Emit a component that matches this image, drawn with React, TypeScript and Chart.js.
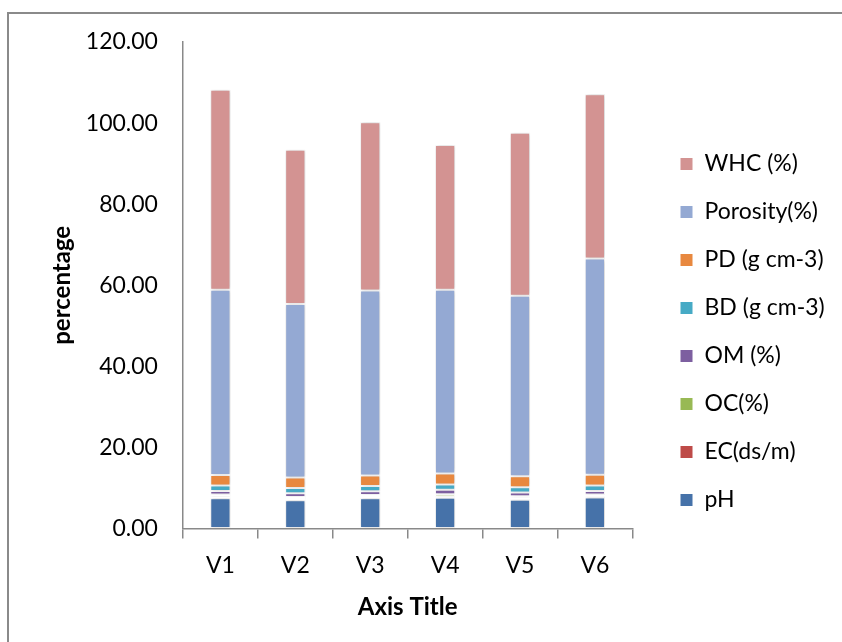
import React, { useEffect, useRef } from "react";
import { Chart, registerables } from "chart.js";

Chart.register(...registerables);

const categories = ["V1", "V2", "V3", "V4", "V5", "V6"];
const pH = [7.5, 7.0, 7.5, 7.6, 7.1, 7.7];
const EC = [0.4, 0.3, 0.3, 0.3, 0.5, 0.3];
const OC = [0.5, 0.5, 0.5, 0.6, 0.4, 0.4];
const OM = [0.9, 0.9, 0.9, 1.1, 0.9, 0.9];
const BD = [1.3, 1.3, 1.3, 1.3, 1.3, 1.3];
const PD = [2.6, 2.6, 2.6, 2.7, 2.7, 2.7];
const Porosity = [45.7, 42.8, 45.6, 45.3, 44.5, 53.3];
const WHC = [49.3, 38.0, 41.5, 35.7, 40.2, 40.5];

const seriesNames = ["pH", "EC(ds/m)", "OC(%)", "OM (%)", "BD (g cm-3)", "PD (g cm-3)", "Porosity(%)", "WHC (%)"];
const seriesValues = [pH, EC, OC, OM, BD, PD, Porosity, WHC];
const seriesColors = ["#4672A9", "#BE4B48", "#98B954", "#7D5FA0", "#46AAC5", "#E8883F", "#94A9D3", "#D39392"];

const FONT = "Lato, 'Open Sans', sans-serif";

const shadowPlugin = {
  id: "barShadow",
  beforeDatasetsDraw(chart: any) {
    const ctx = chart.ctx;
    ctx.save();
    ctx.shadowColor = "rgba(0,0,0,0.22)";
    ctx.shadowBlur = 4;
    ctx.shadowOffsetX = 1;
    ctx.shadowOffsetY = 0;
  },
  afterDatasetsDraw(chart: any) {
    chart.ctx.restore();
  },
};

const legendShift = {
  id: "legendShift",
  afterLayout(chart: any) {
    const lg = chart.legend;
    if (!lg) return;
    const pad = lg.options.labels.padding;
    const dx = 680 - (lg.left + pad);
    lg.left += dx;
    lg.right += dx;
  },
};

export default function App() {
  const ref = useRef<HTMLCanvasElement | null>(null);
  useEffect(() => {
    if (!ref.current) return;
    const chart = new Chart(ref.current, {
      type: "bar",
      data: {
        labels: categories,
        datasets: seriesNames.map((name, i) => ({
          label: name,
          data: seriesValues[i],
          backgroundColor: seriesColors[i],
          borderColor: "#ffffff",
          borderWidth: 1,
          borderSkipped: false,
          barPercentage: 0.27,
          categoryPercentage: 1,
        })),
      },
      options: {
        animation: false,
        responsive: false,
        devicePixelRatio: 1,
        layout: { padding: { left: 48, right: 30, top: 42, bottom: 20 } },
        plugins: {
          tooltip: { enabled: false },
          legend: {
            position: "right",
            reverse: true,
            labels: {
              boxWidth: 13,
              boxHeight: 13,
              padding: 25,
              color: "#000",
              font: { family: FONT, size: 23 },
            },
          },
        },
        scales: {
          x: {
            stacked: true,
            offset: true,
            grid: {
              display: true,
              offset: true,
              drawOnChartArea: false,
              drawTicks: true,
              tickLength: 10,
              color: "#898989",
              lineWidth: 1.5,
            },
            border: { display: true, color: "#898989", width: 1.5 },
            ticks: { color: "#000", font: { family: FONT, size: 23 }, padding: 13 },
            title: {
              display: true,
              text: "Axis Title",
              color: "#000",
              font: { family: FONT, size: 24, weight: "bold" },
              padding: { top: 1, bottom: 0 },
            },
          },
          y: {
            stacked: true,
            min: 0,
            max: 120,
            grid: {
              display: true,
              drawOnChartArea: false,
              drawTicks: true,
              tickLength: 24,
              tickColor: "#ffffff",
              color: "#898989",
            },
            border: { display: true, color: "#898989", width: 1.5 },
            ticks: {
              stepSize: 20,
              color: "#000",
              font: { family: FONT, size: 23 },
              padding: 1,
              callback: (v: any) => Number(v).toFixed(2),
            },
            title: {
              display: true,
              text: "percentage",
              color: "#000",
              font: { family: FONT, size: 24, weight: "bold" },
              padding: { top: 0, bottom: 8 },
            },
          },
        },
      },
      plugins: [shadowPlugin, legendShift],
    });
    return () => chart.destroy();
  }, []);

  return (
    <div style={{ position: "absolute", left: 0, top: 0, width: 842, height: 642, background: "#fff", overflow: "hidden" }}>
      <div
        style={{
          position: "absolute",
          left: 7,
          top: 12,
          width: 900,
          height: 700,
          borderLeft: "2px solid #8a8a8a",
          borderTop: "2px solid #8a8a8a",
          boxSizing: "border-box",
        }}
      />
      <canvas ref={ref} width={842} height={642} style={{ position: "absolute", left: 0, top: 0 }} />
    </div>
  );
}
